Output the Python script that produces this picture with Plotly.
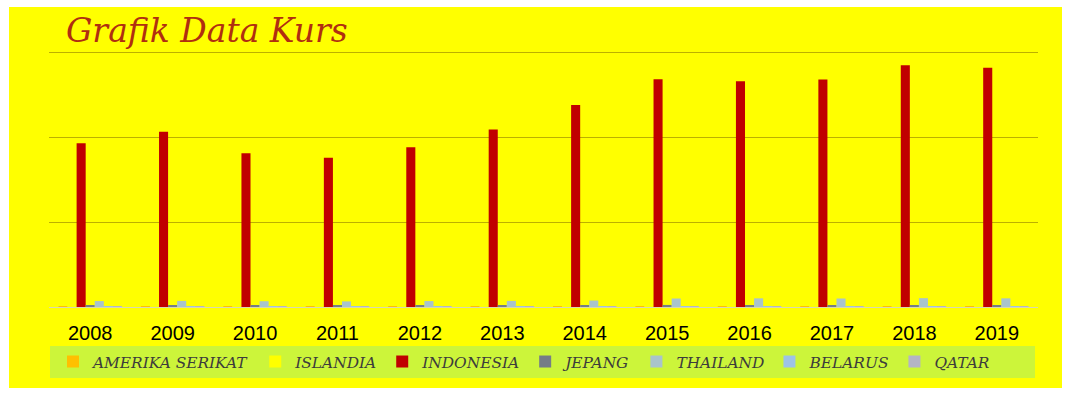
import plotly.graph_objects as go

# Exchange-rate data per year (local currency per USD)
years = ["2008", "2009", "2010", "2011", "2012", "2013",
         "2014", "2015", "2016", "2017", "2018", "2019"]

amerika_serikat = [1, 1, 1, 1, 1, 1, 1, 1, 1, 1, 1, 1]
islandia = [90, 125, 120, 115, 125, 120, 115, 130, 120, 105, 110, 120]
indonesia = [9640, 10310, 9050, 8790, 9400, 10450,
             11880, 13400, 13280, 13390, 14220, 14080]
jepang = [103, 94, 88, 80, 80, 98, 106, 121, 109, 112, 110, 109]
thailand = [350, 360, 340, 330, 350, 360, 380, 500, 510, 500, 520, 510]
belarus = [2, 2, 3, 5, 8, 9, 11, 18, 20, 19, 21, 21]
qatar = [3.64, 3.64, 3.64, 3.64, 3.64, 3.64,
         3.64, 3.64, 3.64, 3.64, 3.64, 3.64]

series_names = ["AMERIKA SERIKAT", "ISLANDIA", "INDONESIA", "JEPANG",
                "THAILAND", "BELARUS", "QATAR"]
series_values = [amerika_serikat, islandia, indonesia, jepang,
                 thailand, belarus, qatar]
series_colors = ["#FFC000", "#FFFF00", "#C00000", "#757D87",
                 "#A9C4CC", "#9DC3E6", "#B4B4C6"]

W, H = 1070, 394
Y_MAX = 15300  # headroom so the 15000 gridline is not clipped at the edge

fig = go.Figure()
for name, vals, col in zip(series_names, series_values, series_colors):
    fig.add_trace(go.Bar(x=years, y=vals, name=name,
                         marker=dict(color=col, line=dict(width=0))))

PL, PR, PT, PB = 49, 32, 47, 87
PW, PH = W - PL - PR, H - PT - PB
px = lambda v: (v - PL) / PW
py = lambda v: (H - PB - v) / PH

shapes = [
    # light-green legend band
    dict(type="rect", xref="paper", yref="paper",
         x0=px(50), x1=px(1035), y0=py(378), y1=py(346),
         fillcolor="#CCF53A", line=dict(width=0), layer="below"),
]

fig.update_layout(
    width=W, height=H,
    paper_bgcolor="#FFFF00",
    plot_bgcolor="#FFFF00",
    margin=dict(l=PL, r=PR, t=PT, b=PB, autoexpand=False),
    barmode="group",
    bargap=0.23,
    bargroupgap=0,
    showlegend=True,
    legend=dict(
        orientation="h",
        xref="container", yref="container",
        x=53 / W, xanchor="left",
        y=1 - 362 / H, yanchor="middle",
        bgcolor="rgba(0,0,0,0)",
        itemwidth=30,
        font=dict(family="DejaVu Serif", size=15.4, style="italic",
                  color="#3C3C3C"),
        traceorder="normal",
    ),
    xaxis=dict(
        showgrid=False, zeroline=False, showline=False, ticks="",
        ticklabelstandoff=12, automargin=False,
        tickfont=dict(family="Liberation Sans", size=20, color="#000000"),
        fixedrange=True,
    ),
    yaxis=dict(
        range=[0, Y_MAX], dtick=5000,
        showticklabels=False, ticks="", automargin=False,
        showgrid=True, gridcolor="#BCB000", gridwidth=1,
        zeroline=True, zerolinecolor="#D8D8B0", zerolinewidth=1,
        showline=False, fixedrange=True,
    ),
    shapes=shapes,
    annotations=[
        dict(text="Grafik Data Kurs", xref="paper", yref="paper",
             x=px(64), xanchor="left",
             y=py(30), yanchor="middle",
             showarrow=False,
             font=dict(family="DejaVu Serif", size=33, style="italic",
                       color="#B02E10")),
    ],
)

# white frame around the chart
frame = dict(type="rect", xref="paper", yref="paper",
             fillcolor="#FFFFFF", line=dict(width=0), layer="above")
fig.add_shape(frame, x0=px(0), x1=px(9), y0=py(H), y1=py(0))
fig.add_shape(frame, x0=px(1062), x1=px(W), y0=py(H), y1=py(0))
fig.add_shape(frame, x0=px(0), x1=px(W), y0=py(7), y1=py(0))
fig.add_shape(frame, x0=px(0), x1=px(W), y0=py(H), y1=py(388))

fig.write_html("out.html")
